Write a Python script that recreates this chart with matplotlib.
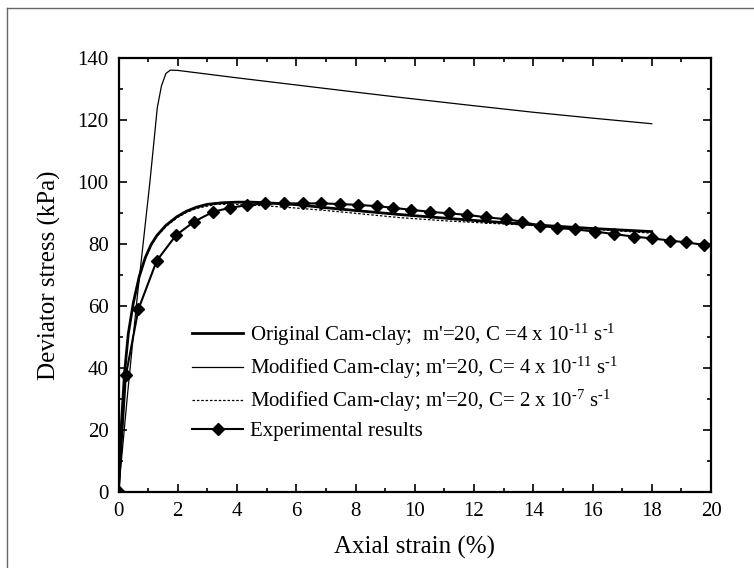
import numpy as np
import matplotlib
matplotlib.use('Agg')
import matplotlib.pyplot as plt
from matplotlib.lines import Line2D
from matplotlib.ticker import MultipleLocator

plt.rcParams['font.family'] = ['Liberation Serif', 'DejaVu Serif']
plt.rcParams['mathtext.fontset'] = 'custom'
plt.rcParams['mathtext.rm'] = 'Liberation Serif'
plt.rcParams['mathtext.it'] = 'Liberation Serif:italic'

# Original Cam-clay; m'=20, C=4e-11
orig_x = [0, 0.1, 0.2, 0.33, 0.5, 0.7, 0.9, 1.1, 1.3, 1.6, 1.97, 2.3, 2.64, 3.0, 3.5, 4.0, 4.5, 5.0, 6.0, 7.0,
          8.0, 9.5, 12.0, 14.0, 16.0, 18.0]
orig_y = [0, 22, 38, 51, 61, 69.5, 75.5, 79.8, 82.8, 86, 88.8, 90.6, 91.9, 92.8, 93.3, 93.5, 93.5, 93.3, 92.7, 91.7,
          90.8, 89.5, 87.6, 86.2, 85.0, 84.0]

# Modified Cam-clay; m'=20, C=4e-11
mod_x = [0, 0.3, 0.6, 1.06, 1.31, 1.45, 1.6, 1.75, 2.0, 2.5, 4.0, 6.0, 8.0, 9.5, 12.0, 14.0, 16.0, 18.0]
mod_y = [0, 31, 60, 100, 124, 131, 135, 136.1, 136.0, 135.4, 133.6, 131.3, 129.0, 127.3, 124.6, 122.5, 120.6, 118.8]

# Modified Cam-clay; m'=20, C=2e-7
mod2_x = [0, 0.1, 0.2, 0.33, 0.5, 0.7, 0.9, 1.1, 1.3, 1.6, 1.97, 2.3, 2.64, 3.3, 4.0, 5.0, 6.0, 7.0, 8.0, 9.5,
          11.0, 12.5, 14.0, 16.0, 18.0]
mod2_y = [0, 22, 38, 51, 61, 69.3, 75.2, 79.5, 82.5, 85.6, 88.4, 90.2, 91.5, 92.8, 92.8, 92.3, 91.6, 90.8, 89.9, 88.5,
          87.5, 86.7, 86.0, 84.8, 83.5]

# Experimental results
exp_x = [0, 0.25, 0.67, 1.29, 1.94, 2.55, 3.2, 3.77, 4.33, 4.95, 5.57, 6.22, 6.84, 7.46, 8.1, 8.72, 9.26,
         9.89, 10.5, 11.14, 11.76, 12.42, 13.09, 13.62, 14.22, 14.8, 15.42, 16.1, 16.72, 17.39, 18.01,
         18.63, 19.17, 19.78]
exp_y = [0, 37.7, 58.9, 74.6, 82.8, 87.2, 90.4, 91.7, 92.5, 93.1, 93.1, 93.1, 93.1, 92.9, 92.6, 92.2, 91.7,
         91.0, 90.4, 89.9, 89.4, 88.6, 88.0, 87.2, 85.9, 85.2, 84.7, 84.0, 83.2, 82.4, 81.8,
         81.1, 80.5, 79.7]

labels = [u"Original Cam-clay;  m'=20, C =4 x 10$^{\u201011}$ s$^{\u20101}$",
          u"Modified Cam-clay; m'=20, C= 4 x 10$^{\u201011}$ s$^{\u20101}$",
          u"Modified Cam-clay; m'=20, C= 2 x 10$^{\u20107}$ s$^{\u20101}$",
          "Experimental results"]

fig = plt.figure(figsize=(7.54, 5.68), dpi=100)
ax = fig.add_axes([118.5/754, 1 - 492/568, (711 - 118.5)/754, (492 - 58)/568])

ax.plot(orig_x, orig_y, color='black', lw=2.0, label=labels[0])
ax.plot(mod_x, mod_y, color='black', lw=0.9, label=labels[1])
ax.plot(mod2_x, mod2_y, color='black', lw=0.9, ls=(0, (2, 1.5)), label=labels[2])
ax.plot(exp_x, exp_y, color='black', lw=1.5, marker='D', ms=6, label=labels[3])

ax.set_xlim(0, 20)
ax.set_ylim(0, 140)
ax.xaxis.set_major_locator(MultipleLocator(2))
ax.xaxis.set_minor_locator(MultipleLocator(1))
ax.yaxis.set_major_locator(MultipleLocator(20))
ax.yaxis.set_minor_locator(MultipleLocator(10))
ax.tick_params(which='both', direction='in', top=True, right=True, labelsize=15, width=1.2, pad=7)
ax.tick_params(which='major', length=6)
ax.tick_params(which='minor', length=3)
for s in ax.spines.values():
    s.set_linewidth(1.6)

ax.set_xlabel('Axial strain (%)', fontsize=18, labelpad=11)
ax.set_ylabel('Deviator stress (kPa)', fontsize=18, labelpad=12)

ax.legend(loc='upper left', bbox_to_anchor=(0.11, 0.412), frameon=False, fontsize=15,
          handlelength=2.45, handletextpad=0.33, labelspacing=0.34, borderaxespad=0)

# outer frame of the scanned figure
fig.add_artist(Line2D([7/754, 7/754], [0, 1 - 8/568], color='0.4', lw=1.0, transform=fig.transFigure))
fig.add_artist(Line2D([7/754, 1], [1 - 8/568, 1 - 8/568], color='0.4', lw=1.0, transform=fig.transFigure))

fig.savefig('out.png', dpi=100)
